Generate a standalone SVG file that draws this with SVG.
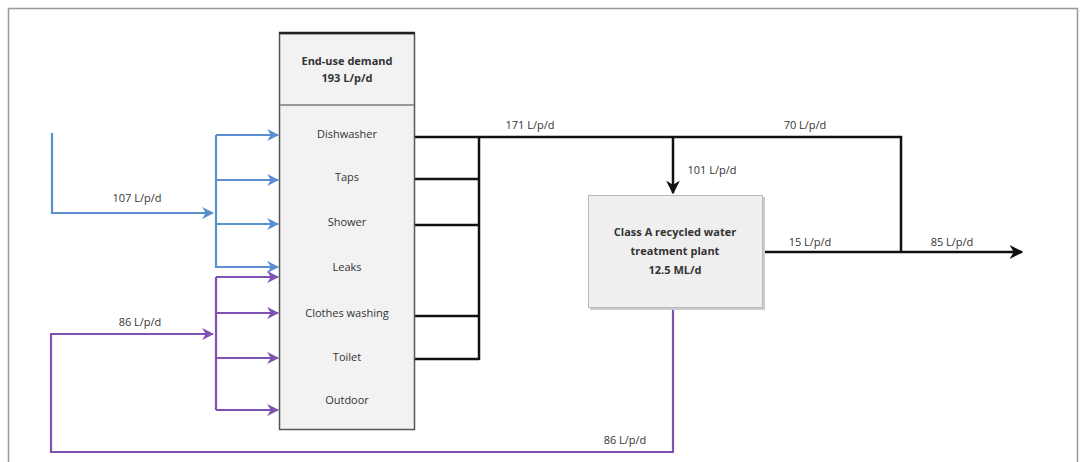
<svg xmlns="http://www.w3.org/2000/svg" width="1081" height="462" viewBox="0 0 1081 462">
<defs>
<style>
.t{font-family:"Open Sans","Liberation Sans",sans-serif;font-size:11px;fill:#333;text-anchor:middle}
.b{font-weight:bold}
.blue{stroke:#5b8fd0;stroke-width:2.2;fill:none}
.pur{stroke:#7f52b3;stroke-width:2.2;fill:none}
.blk{stroke:#111;stroke-width:2.5;fill:none}
</style>
<marker id="ab" viewBox="0 0 10 10" refX="9" refY="5" markerWidth="5.5" markerHeight="5.5" orient="auto"><path d="M0,0 L10,5 L0,10 L3,5 Z" fill="#5b8fd0"/></marker>
<marker id="ap" viewBox="0 0 10 10" refX="9" refY="5" markerWidth="5.5" markerHeight="5.5" orient="auto"><path d="M0,0 L10,5 L0,10 L3,5 Z" fill="#7f52b3"/></marker>
<marker id="ak" viewBox="0 0 10 10" refX="9" refY="5" markerWidth="5.5" markerHeight="5.5" orient="auto"><path d="M0,0 L10,5 L0,10 L3,5 Z" fill="#111"/></marker>
</defs>
<rect width="1081" height="462" fill="#fff"/>
<path d="M8.5,470 V8.5 H1077.5 V470" fill="none" stroke="#999" stroke-width="1.5"/>

<g id="connectors">
  <path class="blue" d="M52,133 V213 H213" marker-end="url(#ab)"/>
  <path class="blue" d="M216,135 V268"/>
  <path class="blue" d="M216,135 H278" marker-end="url(#ab)"/>
  <path class="blue" d="M216,180 H278" marker-end="url(#ab)"/>
  <path class="blue" d="M216,224 H278" marker-end="url(#ab)"/>
  <path class="blue" d="M216,267 H278" marker-end="url(#ab)"/>
  <path class="pur" d="M673,308 V452 H51 V334 H213" marker-end="url(#ap)"/>
  <path class="pur" d="M216,277 V410"/>
  <path class="pur" d="M216,277 H278" marker-end="url(#ap)"/>
  <path class="pur" d="M216,313 H278" marker-end="url(#ap)"/>
  <path class="pur" d="M216,358 H278" marker-end="url(#ap)"/>
  <path class="pur" d="M216,410 H278" marker-end="url(#ap)"/>
  <path class="blk" d="M415,137 H901 V252"/>
  <path class="blk" d="M415,179 H479"/>
  <path class="blk" d="M415,225 H479"/>
  <path class="blk" d="M415,316 H479"/>
  <path class="blk" d="M415,359 H479"/>
  <path class="blk" d="M479,137 V360"/>
  <path class="blk" d="M673,137 V193" marker-end="url(#ak)"/>
  <path class="blk" d="M763,252 H1022" marker-end="url(#ak)"/>
  <text class="t" x="137" y="202">107 L/p/d</text>
  <text class="t" x="140" y="326">86 L/p/d</text>
  <text class="t" x="625" y="444">86 L/p/d</text>
  <text class="t" x="530" y="129">171 L/p/d</text>
  <text class="t" x="712" y="174">101 L/p/d</text>
  <text class="t" x="805" y="129">70 L/p/d</text>
  <text class="t" x="810" y="246">15 L/p/d</text>
  <text class="t" x="952" y="246">85 L/p/d</text>
</g>

<g id="end-use-demand">
  <rect x="279.5" y="33.5" width="135" height="396" fill="#f2f2f2" stroke="#555" stroke-width="1.5"/>
  <line x1="279" y1="33" x2="415" y2="33" stroke="#222" stroke-width="2.5"/>
  <line x1="280" y1="105" x2="414" y2="105" stroke="#999" stroke-width="2"/>
  <text class="t b" x="347" y="65">End-use demand</text>
  <text class="t b" x="347" y="82">193 L/p/d</text>
  <text class="t" x="347" y="138">Dishwasher</text>
  <text class="t" x="347" y="181">Taps</text>
  <text class="t" x="347" y="226">Shower</text>
  <text class="t" x="347" y="271">Leaks</text>
  <text class="t" x="347" y="317">Clothes washing</text>
  <text class="t" x="347" y="361">Toilet</text>
  <text class="t" x="347" y="404">Outdoor</text>
</g>

<g id="treatment-plant">
  <rect x="590" y="197" width="175" height="113" fill="#ccc"/>
  <rect x="588.5" y="195.5" width="174" height="112" fill="#efefef" stroke="#bbb" stroke-width="1"/>
  <text class="t b" x="675" y="236">Class A recycled water</text>
  <text class="t b" x="675" y="255">treatment plant</text>
  <text class="t b" x="675" y="274">12.5 ML/d</text>
</g>
</svg>
